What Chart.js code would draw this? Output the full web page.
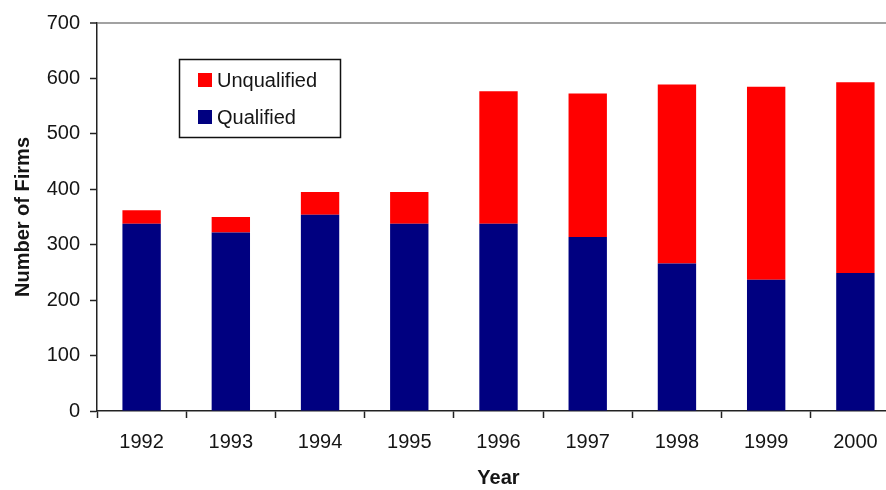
<!DOCTYPE html>
<html>
<head>
<meta charset="utf-8">
<script src="https://cdn.jsdelivr.net/npm/chart.js@4/dist/chart.umd.min.js"></script>
<style>
  html, body { margin: 0; padding: 0; background: #fff; overflow: hidden; width: 886px; height: 490px; }
  #wrap { position: absolute; left: 0; top: 0; width: 900px; height: 490px; }
</style>
</head>
<body>
<div id="wrap"><canvas id="c" width="900" height="490"></canvas></div>
<script>
const years = ['1992', '1993', '1994', '1995', '1996', '1997', '1998', '1999', '2000'];
const qualified = [338, 322, 354, 338, 338, 314, 266, 237, 249];
const unqualified = [24, 28, 41, 57, 239, 259, 323, 348, 344];
const yTicks = [0, 100, 200, 300, 400, 500, 600, 700];

const FONT = '"Liberation Sans", Arial, sans-serif';
const TEXT = '#151515';

const boxLegend = {
  id: 'boxLegend',
  afterDraw(chart) {
    const ctx = chart.ctx;
    const items = chart.data.datasets.slice().reverse();
    ctx.save();
    ctx.strokeStyle = '#111';
    ctx.lineWidth = 1.5;
    ctx.strokeRect(179.5, 59.5, 161, 78);
    ctx.font = '20px ' + FONT;
    ctx.textBaseline = 'middle';
    ctx.textAlign = 'left';
    const rowY = [80, 117];
    items.forEach((ds, i) => {
      ctx.fillStyle = ds.backgroundColor;
      ctx.fillRect(198, rowY[i] - 7, 14, 14);
      ctx.fillStyle = TEXT;
      ctx.fillText(ds.label, 217, rowY[i] + 1);
    });
    ctx.restore();
  }
};

new Chart(document.getElementById('c'), {
  type: 'bar',
  data: {
    labels: years,
    datasets: [
      { label: 'Qualified', data: qualified, backgroundColor: '#000080', borderWidth: 0 },
      { label: 'Unqualified', data: unqualified, backgroundColor: '#ff0000', borderWidth: 0 }
    ]
  },
  options: {
    responsive: false,
    animation: false,
    devicePixelRatio: 1,
    layout: { padding: { top: 23, right: 0, bottom: 0, left: 0 } },
    plugins: { legend: { display: false }, tooltip: { enabled: false } },
    datasets: { bar: { categoryPercentage: 1, barPercentage: 0.43 } },
    scales: {
      x: {
        stacked: true,
        offset: true,
        grid: { display: true, drawOnChartArea: false, offset: true, tickLength: 7, tickColor: '#222', tickWidth: 1.5 },
        border: { display: true, color: '#222', width: 1.5 },
        ticks: { color: TEXT, font: { family: FONT, size: 20 }, padding: 12, maxRotation: 0, autoSkip: false },
        title: { display: true, text: 'Year', color: TEXT, font: { family: FONT, size: 20, weight: 'bold' }, padding: { top: 0, bottom: 0 } },
        afterFit(scale) { scale.height = 79; }
      },
      y: {
        stacked: true,
        min: 0,
        max: 700,
        afterBuildTicks(scale) { scale.ticks = yTicks.map(v => ({ value: v })); },
        grid: {
          display: true,
          drawOnChartArea: true,
          tickLength: 7,
          color: (c) => (c.tick && c.tick.value === 700) ? '#a2a2a2' : 'rgba(0,0,0,0)',
          lineWidth: (c) => (c.tick && c.tick.value === 700) ? 2 : 1,
          tickColor: '#222',
          tickWidth: 1.5
        },
        border: { display: true, color: '#222', width: 1.5 },
        ticks: { color: TEXT, font: { family: FONT, size: 20 }, padding: 10 },
        title: { display: true, text: 'Number of Firms', color: TEXT, font: { family: FONT, size: 20, weight: 'bold' }, padding: { top: 11, bottom: 0 } },
        afterFit(scale) { scale.width = 97; }
      }
    }
  },
  plugins: [boxLegend]
});
</script>
</body>
</html>
